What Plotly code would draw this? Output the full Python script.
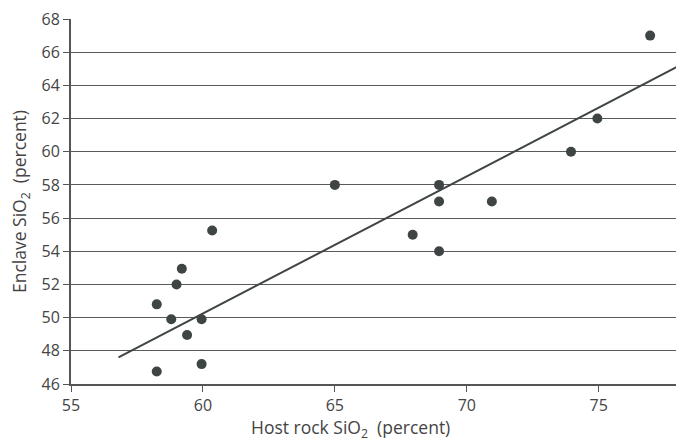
import plotly.graph_objects as go

host_sio2 = [65.0, 60.35, 59.2, 59.0, 58.25, 58.8, 59.95, 59.4, 59.95, 58.25,
             76.95, 74.95, 73.95, 68.95, 68.95, 70.95, 67.95, 68.95]
enclave_sio2 = [58.0, 55.25, 52.95, 52.0, 50.8, 49.9, 49.9, 48.95, 47.2, 46.75,
                67.0, 62.0, 60.0, 58.0, 57.0, 57.0, 55.0, 54.0]

trend_x = [56.8, 77.95]
trend_y = [47.6, 65.1]

x_ticks = [55, 60, 65, 70, 75]
y_ticks = [46, 48, 50, 52, 54, 56, 58, 60, 62, 64, 66, 68]

x_title = "Host rock SiO<sub>2</sub>  (percent)"
y_title = "Enclave SiO<sub>2</sub>  (percent)"

dark = "#3f4444"
font = "Open Sans, Noto Sans, sans-serif"

fig = go.Figure()
fig.add_trace(go.Scatter(x=trend_x, y=trend_y, mode="lines",
                         line=dict(color=dark, width=2), showlegend=False,
                         hoverinfo="skip"))
fig.add_trace(go.Scatter(x=host_sio2, y=enclave_sio2, mode="markers",
                         marker=dict(color=dark, size=10), showlegend=False))

fig.update_layout(
    width=676, height=442,
    margin=dict(l=71, r=0, t=19, b=58),
    paper_bgcolor="white", plot_bgcolor="white",
    font=dict(family=font, color="#444444", size=16),
    xaxis=dict(range=[55, 77.93], tickvals=x_ticks, showgrid=False,
               zeroline=False, showline=True, linecolor="#555555", linewidth=2,
               ticks="outside", ticklen=6, tickcolor="#555555", tickwidth=1,
               tickfont=dict(size=16, color="#444444")),
    yaxis=dict(range=[46, 68], tickvals=y_ticks, showgrid=True,
               gridcolor="#5a5a5a", gridwidth=1,
               zeroline=False, showline=True, linecolor="#555555", linewidth=2,
               ticks="outside", ticklen=6, tickcolor="#555555", tickwidth=1,
               tickfont=dict(size=16, color="#444444"),
               title=dict(text=y_title,
                          font=dict(size=17.5, color="#444444"), standoff=10)),
    annotations=[dict(text=x_title, xref="paper", yref="paper",
                      x=0.462, y=-0.122, xanchor="center", yanchor="middle",
                      showarrow=False,
                      font=dict(size=17.5, color="#444444"))],
)

fig.write_html("out.html")
